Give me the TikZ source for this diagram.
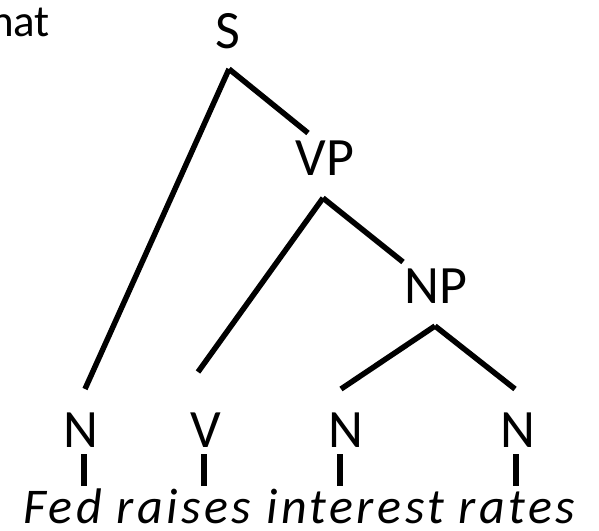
\documentclass[tikz,border=0pt]{standalone}
\usepackage{fontspec}
\setmainfont{Carlito}
\newfontfamily\sentfont[LetterSpace=7]{Carlito}
\usetikzlibrary{positioning}

\begin{document}
\begin{tikzpicture}[
    x=1pt, y=-1pt,
    cat/.style={inner sep=0pt, anchor=base, font=\fontsize{54}{60}\selectfont},
    word/.style={inner sep=0pt, anchor=base west, font=\sentfont\fontsize{50}{58}\selectfont\itshape},
    branch/.style={line width=5.5pt, black},
    tick/.style={line width=6.5pt, black}
]

% Page frame
\useasboundingbox (0,0) rectangle (599,530);

% Leftover text at the corner
\node[inner sep=0pt, anchor=base west, font=\fontsize{45}{52}\selectfont] (that) at (-10,36) {hat};

% ==================== LABELS ====================
\node[cat] (S) at (227.5,48) {S};
\node[cat] (VP) at (325,175) {VP};
\node[cat] (NP) at (436,303) {NP};

\node[cat] (n-fed) at (81,447) {N};
\node[cat] (v-raises) at (205.5,447) {V};
\node[cat] (n-interest) at (346,447) {N};
\node[cat] (n-rates) at (518,447) {N};

% Sentence
\node[word] (sent) at (23,523) {Fed raises interest rates};

% ==================== BRANCHES ====================
\coordinate (s-apex) at (229,69);
\coordinate (vp-apex) at (323,198);
\coordinate (np-apex) at (435,326);

\coordinate (vp-end) at (308,133);
\coordinate (np-end) at (403,262);
\coordinate (fed-end) at (85,389);
\coordinate (raises-end) at (198,372);
\coordinate (interest-end) at (341,389);
\coordinate (rates-end) at (515,389);

\draw[branch] (s-apex) -- (fed-end);
\draw[branch] (s-apex) -- (vp-end);
\draw[branch] (vp-apex) -- (raises-end);
\draw[branch] (vp-apex) -- (np-end);
\draw[branch] (np-apex) -- (interest-end);
\draw[branch] (np-apex) -- (rates-end);

% Ticks down to the words
\draw[tick] ([xshift=3pt, yshift=-7pt]n-fed.south) -- ++(0,32);
\draw[tick] ([xshift=-1.5pt, yshift=-7pt]v-raises.south) -- ++(0,32);
\draw[tick] ([xshift=-6pt, yshift=-7pt]n-interest.south) -- ++(0,32);
\draw[tick] ([xshift=-2pt, yshift=-7pt]n-rates.south) -- ++(0,32);

\end{tikzpicture}
\end{document}
